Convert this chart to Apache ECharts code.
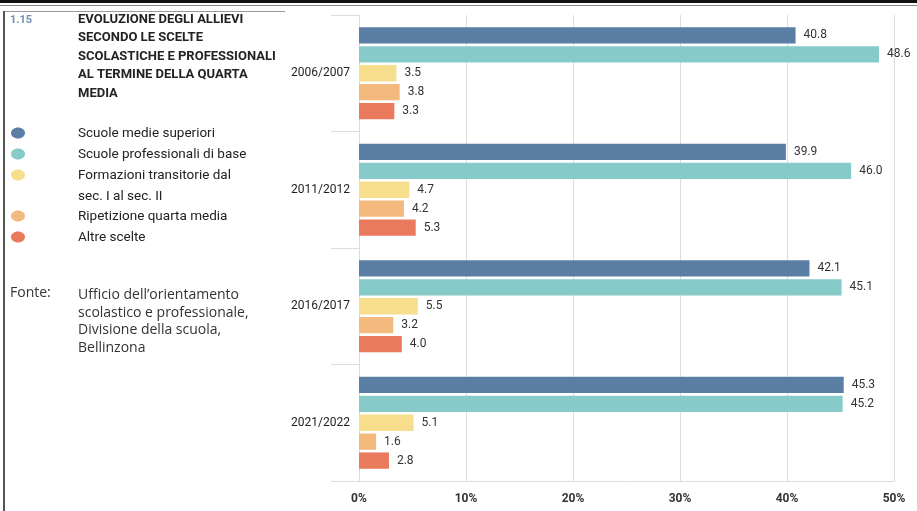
<!DOCTYPE html>
<html><head><meta charset="utf-8">
<script src="https://cdn.jsdelivr.net/npm/echarts@6/dist/echarts.min.js"></script>
<style>html,body{margin:0;padding:0;background:#fff}#c{width:917px;height:511px}</style>
</head><body><div id="c"></div>
<script>
const categories = ['2006/2007','2011/2012','2016/2017','2021/2022'];
const seriesNames = ['Scuole medie superiori','Scuole professionali di base','Formazioni transitorie dal\nsec. I al sec. II','Ripetizione quarta media','Altre scelte'];
const medieSuperiori = [40.8, 39.9, 42.1, 45.3];
const professionali = [48.6, 46.0, 45.1, 45.2];
const transitorie = [3.5, 4.7, 5.5, 5.1];
const ripetizione = [3.8, 4.2, 3.2, 1.6];
const altre = [3.3, 5.3, 4.0, 2.8];
const colors = ['#5b7ea5','#86cbc9','#f6de8d','#f4b97d','#ea7a5e'];
const titleLines = ['EVOLUZIONE DEGLI ALLIEVI','SECONDO LE SCELTE','SCOLASTICHE E PROFESSIONALI','AL TERMINE DELLA QUARTA','MEDIA'];
const sourceLines = ["Ufficio dell\u2019orientamento","scolastico e professionale,","Divisione della scuola,","Bellinzona"];

const allData = [medieSuperiori, professionali, transitorie, ripetizione, altre];
const chart = echarts.init(document.getElementById('c'));

const graphics = [
  {type:'rect', shape:{x:0,y:0,width:917,height:3}, style:{fill:'#111'}},
  {type:'rect', shape:{x:0,y:5,width:917,height:1}, style:{fill:'#888'}},
  {type:'rect', shape:{x:3,y:11,width:282,height:1}, style:{fill:'#999'}},
  {type:'rect', shape:{x:3,y:11,width:2,height:500}, style:{fill:'#555'}},
  {type:'text', left:10, top:15, style:{text:'1.15', fill:'#6f8fb3', font:'bold 11px Roboto'}},
  {type:'text', left:78, top:10, style:{text:titleLines.join('\n'), fill:'#222', font:'bold 13px Roboto', lineHeight:18.5}},
  {type:'text', left:10, top:286, style:{text:'Fonte:', fill:'#333', font:'14px "Open Sans"'}},
  {type:'text', left:78, top:286, style:{text:sourceLines.join('\n'), fill:'#333', font:'14px "Open Sans"', lineHeight:17.7}}
];
const legendY = [133, 154, 175, 216, 237];
seriesNames.forEach((n,i)=>{
  graphics.push({type:'ellipse', shape:{cx:18, cy:legendY[i], rx:7, ry:5.5}, style:{fill:colors[i]}});
  graphics.push({type:'text', left:78, top:legendY[i]-10, style:{text:n, fill:'#222', font:'13.5px Roboto', lineHeight:21}});
});

chart.setOption({
  animation:false,
  grid:{left:359, right:23, top:15, bottom:30},
  xAxis:{type:'value', min:0, max:50, interval:10,
    axisLabel:{formatter:'{value}%', color:'#333', fontSize:12, fontWeight:'bold', fontFamily:'Roboto', margin:12},
    splitLine:{show:true, lineStyle:{color:'#ddd'}},
    axisLine:{show:true, lineStyle:{color:'#ddd'}}, axisTick:{show:false}},
  yAxis:{type:'category', data:categories, inverse:true,
    axisLabel:{color:'#222', fontSize:12, fontFamily:'Roboto', margin:9},
    axisLine:{show:true, lineStyle:{color:'#ddd'}},
    axisTick:{show:true, length:28, lineStyle:{color:'#ddd'}}},
  graphic:graphics,
  series: allData.map((d,i)=>({
    type:'bar', name:seriesNames[i], data:d,
    barCategoryGap:'21%', barGap:'16%',
    itemStyle:{color:colors[i]},
    label:{show:true, position:'right', distance:8, color:'#333', fontSize:12, fontFamily:'Roboto',
      formatter:p=>p.value.toFixed(1)}
  }))
});
</script></body></html>
